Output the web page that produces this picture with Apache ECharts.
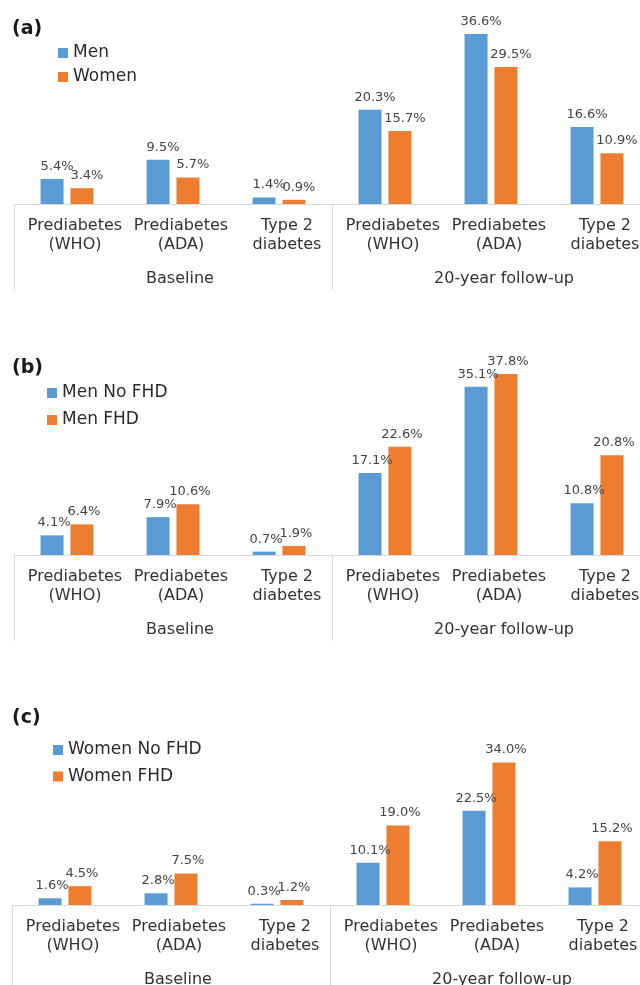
<!DOCTYPE html>
<html>
<head>
<meta charset="utf-8">
<script src="https://cdn.jsdelivr.net/npm/echarts@6/dist/echarts.min.js"></script>
<style>
html, body { margin: 0; padding: 0; background: #fff; }
#main { width: 640px; height: 985px; }
</style>
</head>
<body>
<div id="main"></div>
<script>
const categories = ['Prediabetes\n(WHO)', 'Prediabetes\n(ADA)', 'Type 2\ndiabetes', 'Prediabetes\n(WHO)', 'Prediabetes\n(ADA)', 'Type 2\ndiabetes']
const groups = ['Baseline', '20-year follow-up']

// (a) by sex
const men = [5.4, 9.5, 1.4, 20.3, 36.6, 16.6]
const women = [3.4, 5.7, 0.9, 15.7, 29.5, 10.9]
// (b) men by family history of diabetes
const menNoFhd = [4.1, 7.9, 0.7, 17.1, 35.1, 10.8]
const menFhd = [6.4, 10.6, 1.9, 22.6, 37.8, 20.8]
// (c) women by family history of diabetes
const womenNoFhd = [1.6, 2.8, 0.3, 10.1, 22.5, 4.2]
const womenFhd = [4.5, 7.5, 1.2, 19.0, 34.0, 15.2]

const blue = '#5B9BD5'
const orange = '#ED7D31'
const font = 'DejaVu Sans'
const lineGray = '#d9d9d9'
const textDark = '#2b2b2b'

const panels = [
	{ letter: 'a', names: ['Men', 'Women'], values: [men, women], top: 18.2, height: 185.8, left: 14, legendLeft: 58, legendTop: 43, legendGap: 4, titleTop: 20, dx: 5 },
	{ letter: 'b', names: ['Men No FHD', 'Men FHD'], values: [menNoFhd, menFhd], top: 363.4, height: 191.6, left: 14, legendLeft: 47, legendTop: 383, legendGap: 7, titleTop: 359, dx: 2 },
	{ letter: 'c', names: ['Women No FHD', 'Women FHD'], values: [womenNoFhd, womenFhd], top: 737.4, height: 167.6, left: 12, legendLeft: 53, legendTop: 740, legendGap: 6.5, titleTop: 709, dx: 2 },
]

const grid = []
const xAxis = []
const yAxis = []
const series = []
const legend = []
const title = []

panels.forEach((p, i) => {
	// plot is wider than the page, the right edge is cut off like in the figure
	grid.push({ left: p.left, width: 636, top: p.top, height: p.height, outerBoundsMode: 'none', containLabel: false })

	// first level: the categories
	xAxis.push({
		type: 'category', gridIndex: i, position: 'bottom', data: categories,
		axisLine: { show: false }, axisTick: { show: false },
		axisLabel: { interval: 0, margin: 12, fontSize: 16, lineHeight: 19, color: '#333', fontFamily: font, padding: [0, 0, 0, 16] }
	})
	// second level: Baseline / follow-up, ticks make the box lines
	xAxis.push({
		type: 'category', gridIndex: i, position: 'bottom', data: groups,
		axisLine: { show: true, lineStyle: { color: lineGray, width: 1 } },
		axisTick: { show: true, length: 86, lineStyle: { color: lineGray, width: 1 } },
		axisLabel: {
			interval: 0, margin: 67,
			formatter: (v, k) => '{g' + k + '|' + v + '}',
			rich: {
				g0: { fontSize: 16, color: '#333', fontFamily: font, padding: [0, 0, 0, 14] },
				g1: { fontSize: 16, color: '#333', fontFamily: font, padding: [0, 0, 0, 26] }
			}
		}
	})
	yAxis.push({ type: 'value', gridIndex: i, min: 0, max: 40, show: false, splitLine: { show: false } })

	p.names.forEach((name, j) => {
		series.push({
			name: name,
			type: 'bar',
			xAxisIndex: i * 2,
			yAxisIndex: i,
			data: p.values[j],
			barWidth: 23,
			barGap: '30%',
			itemStyle: { color: j === 0 ? blue : orange },
			label: {
				show: true, position: 'top', distance: 6, offset: [p.dx, 0],
				color: '#444', fontSize: 13, fontFamily: font,
				formatter: d => d.value.toFixed(1) + '%'
			}
		})
	})

	legend.push({
		data: p.names, orient: 'vertical', left: p.legendLeft, top: p.legendTop,
		padding: 0, itemGap: p.legendGap, itemWidth: 10, itemHeight: 10, icon: 'rect',
		selectedMode: false,
		textStyle: { fontSize: 17, lineHeight: 20, color: textDark, fontFamily: font }
	})

	title.push({
		text: '{n|(}{b|' + p.letter + '}{n|)}', left: 12, top: p.titleTop, padding: 0,
		textStyle: {
			rich: {
				n: { fontSize: 19, color: '#1a1a1a', fontFamily: font },
				b: { fontSize: 19, color: '#1a1a1a', fontFamily: font, fontWeight: 'bold' }
			}
		}
	})
})

const myChart = echarts.init(document.getElementById('main'))
myChart.setOption({
	animation: false,
	backgroundColor: '#fff',
	title: title,
	legend: legend,
	grid: grid,
	xAxis: xAxis,
	yAxis: yAxis,
	series: series
})
</script>
</body>
</html>
